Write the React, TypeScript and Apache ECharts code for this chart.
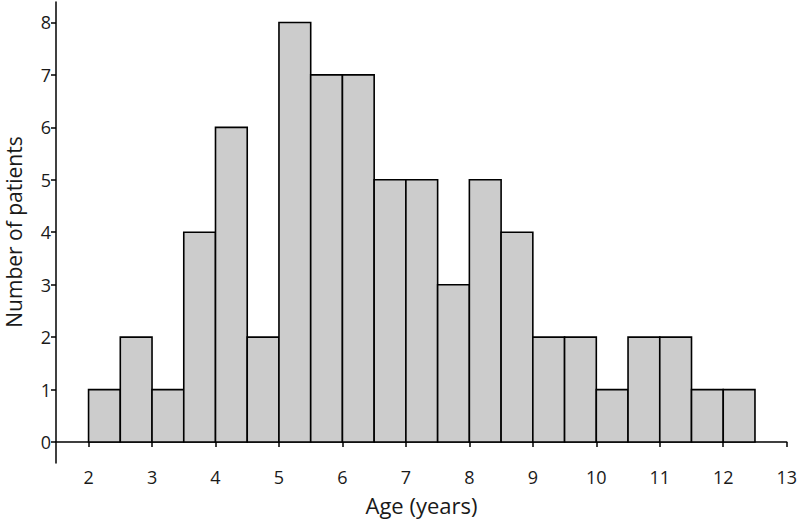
import React, { useEffect, useRef } from "react";
import * as echarts from "echarts";

const binStarts = [2, 2.5, 3, 3.5, 4, 4.5, 5, 5.5, 6, 6.5, 7, 7.5, 8, 8.5, 9, 9.5, 10, 10.5, 11, 11.5, 12];
const counts = [1, 2, 1, 4, 6, 2, 8, 7, 7, 5, 5, 3, 5, 4, 2, 2, 1, 2, 2, 1, 1];
const binWidth = 0.5;
const xTicks = [2, 3, 4, 5, 6, 7, 8, 9, 10, 11, 12, 13];
const yTicks = [0, 1, 2, 3, 4, 5, 6, 7, 8];
const xTitle = "Age (years)";
const yTitle = "Number of patients";

export default function App() {
  const ref = useRef<HTMLDivElement>(null);
  useEffect(() => {
    if (!ref.current) return;
    const chart = echarts.init(ref.current, null, { renderer: "svg" });
    const font = "Open Sans";
    const data = binStarts.map((s, i) => [s, s + binWidth, counts[i]]);
    chart.setOption({
      animation: false,
      backgroundColor: "#ffffff",
      grid: { left: 56, right: 12, top: 2, bottom: 57, containLabel: false },
      xAxis: {
        type: "value",
        min: 1.487,
        max: 13,
        axisLine: { show: true, lineStyle: { color: "#000", width: 1.5 } },
        axisTick: { show: true, length: 5, customValues: xTicks, lineStyle: { color: "#000", width: 1.5 } },
        axisLabel: { customValues: xTicks, fontFamily: font, fontSize: 18, color: "#1a1a1a", margin: 5, showMinLabel: true, showMaxLabel: true },
        splitLine: { show: false },
      },
      yAxis: {
        type: "value",
        min: -0.4,
        max: 8.39,
        axisLine: { show: true, lineStyle: { color: "#000", width: 1.5 } },
        axisTick: { show: true, length: 5, customValues: yTicks, lineStyle: { color: "#000", width: 1.5 } },
        axisLabel: { customValues: yTicks, fontFamily: font, fontSize: 18, color: "#1a1a1a", margin: 5 },
        splitLine: { show: false },
      },
      graphic: [
        {
          type: "text",
          x: 421.5,
          y: 505,
          style: { text: xTitle, fontFamily: font, fontSize: 22, fill: "#1a1a1a", textAlign: "center", textVerticalAlign: "middle" },
        },
        {
          type: "text",
          x: 14,
          y: 232,
          rotation: Math.PI / 2,
          style: { text: yTitle, fontFamily: font, fontSize: 21, lineHeight: 22, fill: "#1a1a1a", textAlign: "center", textVerticalAlign: "middle" },
        },
      ],
      series: [
        {
          type: "custom",
          renderItem: (params: any, api: any) => {
            const x0 = api.value(0);
            const x1 = api.value(1);
            const y = api.value(2);
            const p0 = api.coord([x0, y]);
            const p1 = api.coord([x1, 0]);
            return {
              type: "rect",
              shape: { x: p0[0], y: p0[1], width: p1[0] - p0[0], height: p1[1] - p0[1] },
              style: { fill: "#cccccc", stroke: "#000", lineWidth: 1.6 },
            };
          },
          encode: { x: [0, 1], y: 2 },
          data,
        },
      ],
    });
    return () => chart.dispose();
  }, []);
  return <div ref={ref} style={{ width: 800, height: 520, position: "absolute", left: 0, top: 0 }} />;
}
